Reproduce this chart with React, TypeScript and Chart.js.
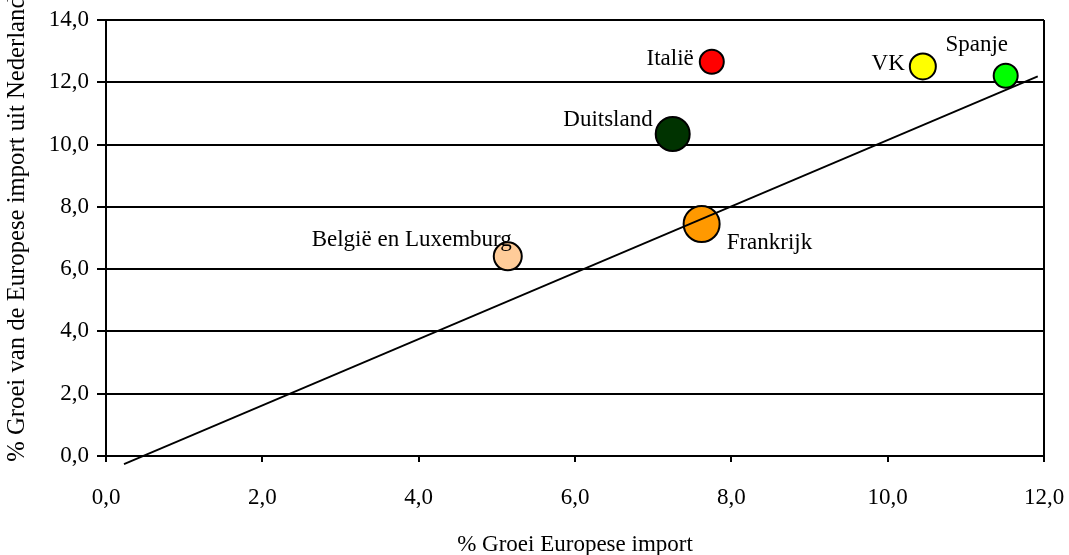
import { useEffect, useRef } from "react";
import { Chart, registerables } from "chart.js";

Chart.register(...registerables);

// Country series: growth of European imports (x) vs. growth of European imports from the Netherlands (y)
const countries = ["Italië", "Duitsland", "VK", "Spanje", "Frankrijk", "België en Luxemburg"];
const importGrowth = [7.75, 7.25, 10.45, 11.51, 7.62, 5.14];
const dutchImportGrowth = [12.66, 10.34, 12.51, 12.21, 7.45, 6.41];
const bubbleSize = [12, 17, 13, 12, 18, 14];
const bubbleColors = ["#FF0000", "#003300", "#FFFF00", "#00FF00", "#FF9900", "#FFCC99"];

// Trend line end points
const trendX = [0.23, 11.92];
const trendY = [-0.26, 12.19];

// Axis ticks and titles
const xTicks = [0, 2, 4, 6, 8, 10, 12];
const yTicks = [0, 2, 4, 6, 8, 10, 12, 14];
const xTitle = "% Groei Europese import";
const yTitle = "% Groei van de Europese import uit Nederland";

const FONT_FAMILY = "'Liberation Serif', 'Times New Roman', serif";
const FONT_SIZE = 23;
const Y_TITLE_SIZE = 24.7;

// Where each country name sits relative to its bubble centre (pixels)
const labelPlacement: { dx: number; dy: number; align: CanvasTextAlign }[] = [
  { dx: -18, dy: 3, align: "right" },
  { dx: -20, dy: -8, align: "right" },
  { dx: -18, dy: 3.5, align: "right" },
  { dx: -29, dy: -25, align: "center" },
  { dx: 25, dy: 25, align: "left" },
  { dx: 4, dy: -10.5, align: "right" },
];

const fmt = (v: number) => v.toFixed(1).replace(".", ",");

const frameAndLabels = {
  id: "frameAndLabels",
  afterDatasetsDraw(chart: any) {
    const { ctx, chartArea, scales } = chart;
    const x = scales.x;
    const y = scales.y;
    ctx.save();
    // right edge of the plot frame
    ctx.strokeStyle = "#000";
    ctx.lineWidth = 2;
    ctx.beginPath();
    ctx.moveTo(chartArea.right, chartArea.top);
    ctx.lineTo(chartArea.right, chartArea.bottom);
    ctx.stroke();

    // country names next to their bubbles
    ctx.font = `${FONT_SIZE}px ${FONT_FAMILY}`;
    ctx.fillStyle = "#000";
    ctx.textBaseline = "alphabetic";
    countries.forEach((name, i) => {
      const p = labelPlacement[i];
      ctx.textAlign = p.align;
      ctx.fillText(
        name,
        x.getPixelForValue(importGrowth[i]) + p.dx,
        y.getPixelForValue(dutchImportGrowth[i]) + p.dy
      );
    });
    ctx.restore();
  },
  afterDraw(chart: any) {
    // vertical axis title, running past the top edge of the canvas
    const { ctx } = chart;
    ctx.save();
    ctx.translate(18, 229);
    ctx.rotate(-Math.PI / 2);
    ctx.font = `${Y_TITLE_SIZE}px ${FONT_FAMILY}`;
    ctx.fillStyle = "#000";
    ctx.textAlign = "center";
    ctx.textBaseline = "middle";
    ctx.fillText(yTitle, 0, 0);
    ctx.restore();
  },
};

export default function App() {
  const canvasRef = useRef<HTMLCanvasElement | null>(null);

  useEffect(() => {
    if (!canvasRef.current) return;
    const font = { family: FONT_FAMILY, size: FONT_SIZE };

    const chart = new Chart(canvasRef.current, {
      type: "bubble",
      data: {
        datasets: [
          {
            type: "line",
            data: trendX.map((v, i) => ({ x: v, y: trendY[i] })),
            borderColor: "#000",
            borderWidth: 1.8,
            pointRadius: 0,
            clip: false,
            order: 0,
          } as any,
          {
            type: "bubble",
            data: countries.map((_, i) => ({
              x: importGrowth[i],
              y: dutchImportGrowth[i],
              r: bubbleSize[i],
            })),
            backgroundColor: bubbleColors,
            borderColor: "#000",
            borderWidth: 2,
            clip: false,
            order: 1,
          },
        ],
      },
      options: {
        animation: false,
        responsive: false,
        devicePixelRatio: 1,
        events: [],
        layout: { padding: 0 },
        plugins: {
          legend: { display: false },
          tooltip: { enabled: false },
        },
        scales: {
          x: {
            type: "linear",
            min: 0,
            max: 12,
            afterBuildTicks: (scale: any) => {
              scale.ticks = xTicks.map((v) => ({ value: v }));
            },
            afterFit: (scale: any) => {
              scale.height = 99;
              scale.paddingRight = 25;
              scale.paddingLeft = 0;
            },
            ticks: {
              font,
              color: "#000",
              padding: 22,
              maxRotation: 0,
              callback: (v: any) => fmt(Number(v)),
            },
            grid: {
              drawOnChartArea: false,
              drawTicks: true,
              tickLength: 6,
              color: "#000",
              lineWidth: 2,
            },
            border: { display: true, color: "#000", width: 2 },
            title: {
              display: true,
              text: xTitle,
              font,
              color: "#000",
              padding: { top: 0, bottom: -4 },
            },
          },
          y: {
            type: "linear",
            min: 0,
            max: 14,
            afterBuildTicks: (scale: any) => {
              scale.ticks = yTicks.map((v) => ({ value: v }));
            },
            afterFit: (scale: any) => {
              scale.width = 106;
              scale.paddingTop = 18;
              scale.paddingBottom = 0;
            },
            ticks: {
              font,
              color: "#000",
              padding: 8,
              callback: (v: any) => fmt(Number(v)),
            },
            grid: {
              drawOnChartArea: true,
              drawTicks: true,
              tickLength: 9,
              color: "#000",
              lineWidth: 2,
            },
            border: { display: true, color: "#000", width: 2 },
            title: { display: false },
          },
        },
      },
      plugins: [frameAndLabels],
    });

    return () => chart.destroy();
  }, []);

  return (
    <div style={{ position: "absolute", left: 0, top: 0, width: 1069, height: 555, background: "#fff" }}>
      <canvas ref={canvasRef} width={1069} height={555} />
    </div>
  );
}
